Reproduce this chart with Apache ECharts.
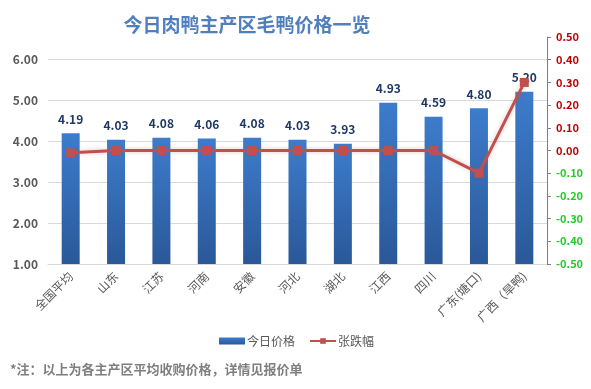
<!DOCTYPE html>
<html>
<head>
<meta charset="utf-8">
<script src="https://cdn.jsdelivr.net/npm/echarts@6/dist/echarts.min.js"></script>
<style>html,body{margin:0;padding:0;background:#fff;}#c{width:591px;height:389px;}</style>
</head>
<body>
<div id="c"></div>
<script>
const categories = ['全国平均','山东','江苏','河南','安徽','河北','湖北','江西','四川','广东(塘口)','广西（旱鸭)'];
const prices = [4.19, 4.03, 4.08, 4.06, 4.08, 4.03, 3.93, 4.93, 4.59, 4.80, 5.20];
const changes = [-0.01, 0.00, 0.00, 0.00, 0.00, 0.00, 0.00, 0.00, 0.00, -0.10, 0.30];
const leftTicks = {min: 1, max: 6, interval: 1};
const rightTicks = {min: -0.5, max: 0.5, interval: 0.1};

const font = '"Microsoft YaHei","Noto Sans CJK SC",sans-serif';
const chart = echarts.init(document.getElementById('c'));
chart.setOption({
  animation: false,
  textStyle: {fontFamily: font},
  title: {
    text: '今日肉鸭主产区毛鸭价格一览',
    left: 242, top: 10, textAlign: 'center',
    textStyle: {color: '#4f7fbc', fontSize: 19, fontWeight: 'bold', fontFamily: font}
  },
  graphic: [{
    type: 'text', left: 10, top: 363,
    style: {text: '*注：以上为各主产区平均收购价格，详情见报价单', fill: '#7f7f7f', font: 'bold 13px ' + font}
  }],
  legend: {
    left: 214, top: 330, itemWidth: 26, itemHeight: 7, itemGap: 14,
    textStyle: {color: '#595959', fontSize: 12, padding: [0, 0, 0, -3]},
    data: [{name: '今日价格', icon: 'rect'}, {name: '张跌幅'}]
  },
  grid: [
    {left: 48, right: 44, top: 59, bottom: 125},
    {left: 48, right: 44, top: 37, bottom: 125}
  ],
  xAxis: [{
    type: 'category', data: categories, gridIndex: 0,
    axisLine: {lineStyle: {color: '#d9d9d9'}},
    axisTick: {show: false},
    axisLabel: {rotate: 45, color: '#595959', fontSize: 12, interval: 0, margin: 10}
  }, {
    type: 'category', data: categories, gridIndex: 1, show: false
  }],
  yAxis: [{
    type: 'value', gridIndex: 0,
    min: leftTicks.min, max: leftTicks.max, interval: leftTicks.interval,
    axisLine: {show: false}, axisTick: {show: false},
    splitLine: {lineStyle: {color: '#d9d9d9'}},
    axisLabel: {color: '#595959', fontSize: 12, fontWeight: 'bold', margin: 10, formatter: v => v.toFixed(2)}
  }, {
    type: 'value', gridIndex: 1, position: 'right',
    min: rightTicks.min, max: rightTicks.max, interval: rightTicks.interval,
    axisLine: {show: true, lineStyle: {color: '#808080'}},
    axisTick: {show: true, length: 4, lineStyle: {color: '#808080'}},
    splitLine: {show: false},
    axisLabel: {
      fontSize: 11, fontWeight: 'bold', margin: 9,
      formatter: v => v.toFixed(2),
      color: v => (Number(v) < -1e-9 ? '#22cc22' : '#c00000')
    }
  }],
  series: [{
    name: '今日价格', type: 'bar', xAxisIndex: 0, yAxisIndex: 0,
    data: prices, barWidth: 18,
    itemStyle: {
      color: new echarts.graphic.LinearGradient(0, 0, 0, 1, [
        {offset: 0, color: '#3d7ccc'}, {offset: 1, color: '#2a5898'}
      ])
    },
    label: {show: true, position: 'top', distance: 8, color: '#1f3864', fontSize: 12, fontWeight: 'bold', formatter: p => p.value.toFixed(2)}
  }, {
    name: '张跌幅', type: 'line', xAxisIndex: 1, yAxisIndex: 1,
    data: changes, symbol: 'rect', symbolSize: 9,
    lineStyle: {color: '#c0504d', width: 3, shadowColor: 'rgba(192,80,77,0.35)', shadowBlur: 4},
    itemStyle: {color: '#c0504d'}
  }]
});
</script>
</body>
</html>
